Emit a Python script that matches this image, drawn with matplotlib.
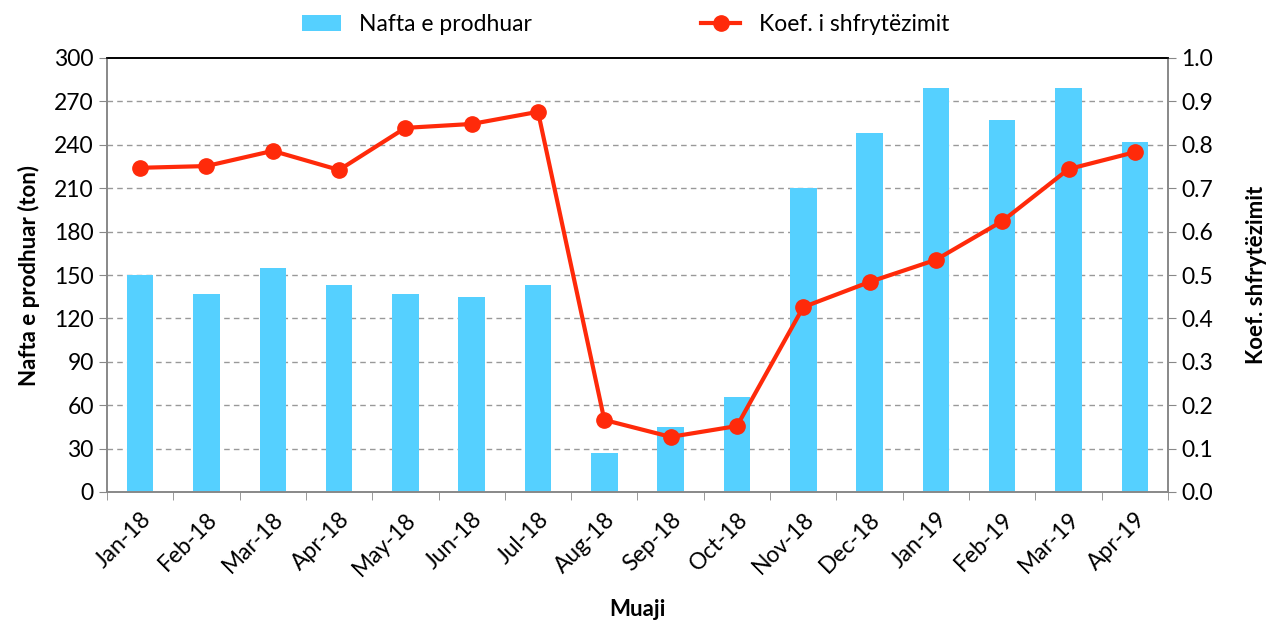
import matplotlib.pyplot as plt
import numpy as np

months = ["Jan-18", "Feb-18", "Mar-18", "Apr-18", "May-18", "Jun-18", "Jul-18", "Aug-18",
          "Sep-18", "Oct-18", "Nov-18", "Dec-18", "Jan-19", "Feb-19", "Mar-19", "Apr-19"]
naftaProdhuar = [150, 137, 155, 143, 137, 135, 143, 27, 45, 66, 210, 248, 279, 257, 279, 242]
koefShfrytezimit = [0.747, 0.751, 0.786, 0.742, 0.839, 0.848, 0.876, 0.166,
                    0.127, 0.152, 0.426, 0.484, 0.535, 0.624, 0.744, 0.783]

plt.rcParams['font.family'] = ['Lato', 'DejaVu Sans']
barColor = '#55D0FF'
lineColor = '#FF2A0A'
axisGray = '#888888'

fig = plt.figure(figsize=(12.66, 6.25), dpi=100)
ax = fig.add_axes([0.0845, 0.2128, 0.8381, 0.6944])
ax2 = ax.twinx()

x = np.arange(len(months))
bars = ax.bar(x, naftaProdhuar, width=0.4, color=barColor, label='Nafta e prodhuar', zorder=2)
line, = ax2.plot(x, koefShfrytezimit, color=lineColor, linewidth=3, marker='o', markersize=11,
                 label='Koef. i shfrytëzimit', zorder=3)

ax.set_xlim(-0.5, len(months) - 0.5)
ax.set_ylim(0, 300)
ax.set_yticks(np.arange(0, 301, 30))
ax2.set_ylim(0, 1.0)
ax2.set_yticks(np.arange(0, 1.01, 0.1))
ax2.set_yticklabels(["%.1f" % v for v in np.arange(0, 1.01, 0.1)])

# dashed gridlines from the left axis
for v in np.arange(30, 300, 30):
    ax.axhline(v, color='#999999', linestyle=(0, (4, 3)), linewidth=1, zorder=1)

# category labels in the middle, tick marks between categories
ax.set_xticks(x)
ax.set_xticklabels(months, rotation=45, ha='right', rotation_mode='anchor', fontsize=16.5)
ax.tick_params(axis='x', which='major', length=0, pad=12)
ax.set_xticks(np.arange(-0.5, len(months), 1), minor=True)
ax.tick_params(axis='x', which='minor', length=6, color=axisGray, direction='out')
ax.tick_params(axis='y', labelsize=16.5, color=axisGray, length=6)
ax2.tick_params(axis='y', labelsize=16.5, color=axisGray, length=6)

for a in (ax, ax2):
    a.spines['left'].set_color(axisGray)
    a.spines['right'].set_color(axisGray)
    a.spines['bottom'].set_color(axisGray)
    a.spines['top'].set_color('black')
    for s in a.spines.values():
        s.set_linewidth(1.2)

ax.set_ylabel('Nafta e prodhuar (ton)', fontsize=16, fontweight='bold', labelpad=10)
ax2.set_ylabel('Koef. shfrytëzimit', fontsize=16, fontweight='bold', labelpad=24)
ax.set_xlabel('Muaji', fontsize=16, fontweight='bold', labelpad=14)

fig.legend(handles=[bars, line], loc='upper center', bbox_to_anchor=(0.494, 1.01), ncol=2,
           frameon=False, fontsize=16.5, columnspacing=7.4, handlelength=1.7, handletextpad=0.8)

fig.savefig('out.png', dpi=100)
